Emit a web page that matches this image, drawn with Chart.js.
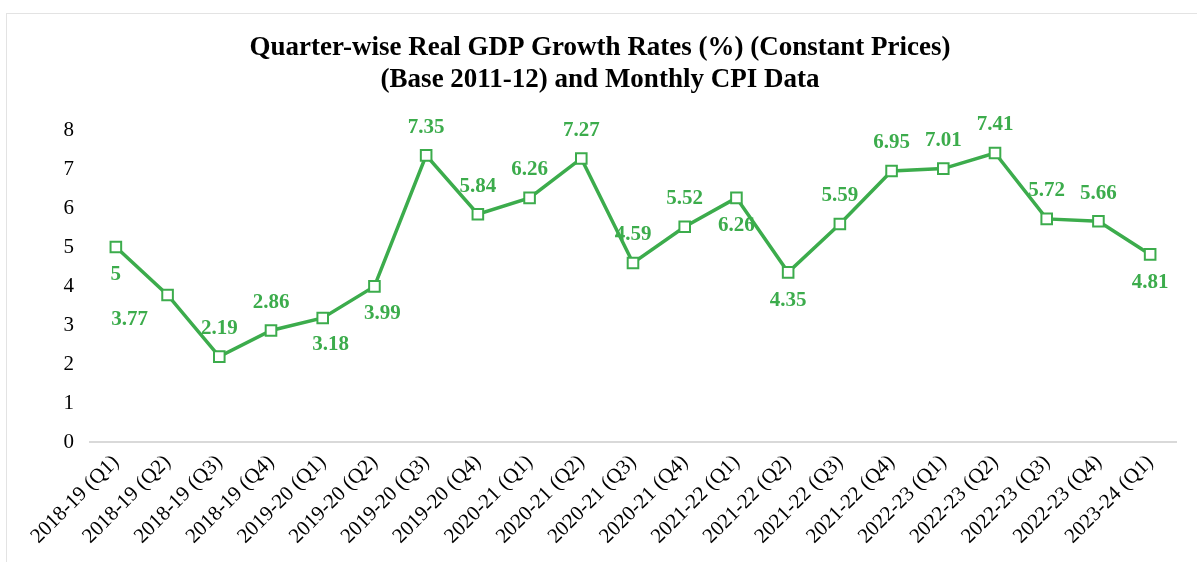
<!DOCTYPE html>
<html>
<head>
<meta charset="utf-8">
<script src="https://cdn.jsdelivr.net/npm/chart.js@4/dist/chart.umd.min.js"></script>
<style>
  html, body { margin: 0; padding: 0; background: #fff; overflow: hidden; }
  #wrap { position: relative; width: 1197px; height: 562px; }
  #frame { position: absolute; left: 6px; top: 13px; width: 1300px; height: 700px; border: 1px solid #e3e3e3; box-sizing: border-box; }
  #myChart { position: absolute; left: 0; top: 0; }
</style>
</head>
<body>
<div id="wrap">
  <div id="frame"></div>
  <canvas id="myChart" width="1197" height="562"></canvas>
</div>
<script>
const quarters = [
  '2018-19 (Q1)', '2018-19 (Q2)', '2018-19 (Q3)', '2018-19 (Q4)',
  '2019-20 (Q1)', '2019-20 (Q2)', '2019-20 (Q3)', '2019-20 (Q4)',
  '2020-21 (Q1)', '2020-21 (Q2)', '2020-21 (Q3)', '2020-21 (Q4)',
  '2021-22 (Q1)', '2021-22 (Q2)', '2021-22 (Q3)', '2021-22 (Q4)',
  '2022-23 (Q1)', '2022-23 (Q2)', '2022-23 (Q3)', '2022-23 (Q4)',
  '2023-24 (Q1)'
];
const gdpGrowth = [5, 3.77, 2.19, 2.86, 3.18, 3.99, 7.35, 5.84, 6.26, 7.27,
  4.59, 5.52, 6.26, 4.35, 5.59, 6.95, 7.01, 7.41, 5.72, 5.66, 4.81];
const yTicks = [0, 1, 2, 3, 4, 5, 6, 7, 8];

// where each value label sits relative to its marker
const labelSide = ['b', 'bl', 'a', 'a', 'br', 'br', 'a', 'a', 'a', 'a',
  'a', 'a', 'b', 'b', 'a', 'a', 'a', 'a', 'a', 'a', 'b'];

const green = '#3cac4c';
const serif = '"Liberation Serif", "Times New Roman", serif';

const valueLabels = {
  id: 'valueLabels',
  afterDatasetsDraw(chart) {
    const ctx = chart.ctx
    const meta = chart.getDatasetMeta(0)
    ctx.save()
    ctx.font = 'bold 21px ' + serif
    ctx.fillStyle = green
    ctx.textAlign = 'center'
    ctx.textBaseline = 'middle'
    meta.data.forEach((pt, i) => {
      let dx = 0, dy = -28
      const side = labelSide[i]
      if (side === 'b') dy = 28
      if (side === 'bl') { dx = -38; dy = 25 }
      if (side === 'br') { dx = 8; dy = 27 }
      ctx.fillText(String(gdpGrowth[i]), pt.x + dx, pt.y + dy)
    })
    ctx.restore()
  }
}

new Chart(document.getElementById('myChart'), {
  type: 'line',
  data: {
    labels: quarters,
    datasets: [{
      data: gdpGrowth,
      borderColor: green,
      borderWidth: 3.5,
      backgroundColor: '#ffffff',
      pointStyle: 'rect',
      pointRadius: 7.5,
      pointBorderWidth: 2,
      pointBorderColor: green,
      pointBackgroundColor: '#ffffff',
      tension: 0
    }]
  },
  options: {
    responsive: false,
    animation: false,
    layout: { padding: { left: 24, right: 21, top: 0, bottom: 0 } },
    plugins: {
      legend: { display: false },
      tooltip: { enabled: false },
      title: {
        display: true,
        text: ['Quarter-wise Real GDP Growth Rates (%) (Constant Prices)', '(Base 2011-12) and Monthly CPI Data'],
        color: '#000',
        font: { family: serif, size: 27, weight: 'bold', lineHeight: 1.185 },
        padding: { top: 32, bottom: 34 }
      }
    },
    scales: {
      x: {
        offset: true,
        grid: { display: false, drawTicks: false },
        border: { display: true, color: '#d9d9d9', width: 2 },
        ticks: {
          color: '#000',
          font: { family: serif, size: 21 },
          maxRotation: 45, minRotation: 45, autoSkip: false, padding: 8
        },
        afterFit(scale) { scale.height = 120 }
      },
      y: {
        min: 0, max: 8,
        afterBuildTicks(scale) { scale.ticks = yTicks.map(v => ({ value: v })) },
        grid: { display: false, drawTicks: false },
        border: { display: false },
        ticks: {
          color: '#000',
          font: { family: serif, size: 21 },
          padding: 16
        },
        afterFit(scale) { scale.width = 66 }
      }
    }
  },
  plugins: [valueLabels]
});
</script>
</body>
</html>
